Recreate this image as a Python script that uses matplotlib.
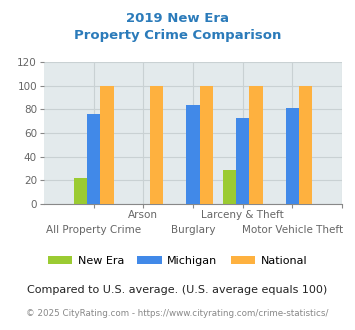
import numpy as np
import matplotlib
matplotlib.use('Agg')
import matplotlib.pyplot as plt

# data
categories = ["All Property Crime", "Arson", "Burglary", "Larceny & Theft", "Motor Vehicle Theft"]
new_era = [22, 0, 0, 29, 0]
michigan = [76, 0, 84, 73, 81]
national = [100, 100, 100, 100, 100]
series = [("New Era", new_era, "#9bcb32"),
          ("Michigan", michigan, "#4189e8"),
          ("National", national, "#feb13f")]

fig = plt.figure(figsize=(3.55, 3.30), dpi=100)
ax = fig.add_axes([44 / 355, 1 - 204 / 330, 298 / 355, 142 / 330])
ax.set_facecolor("#e3eaec")

x = np.arange(len(categories))
w = 0.27
for i, (name, vals, col) in enumerate(series):
    ax.bar(x + (i - 1) * w, vals, width=w, color=col, label=name, zorder=3)

ax.set_xlim(-1, len(categories))
ax.set_ylim(0, 120)
ax.set_yticks(range(0, 121, 20))
ax.set_xticks(list(x) + [len(categories)])
ax.set_xticklabels([])
ax.grid(True, color="#c9d1d3", linewidth=0.8, zorder=0)
for s in ["top", "right"]:
    ax.spines[s].set_visible(False)
ax.spines["left"].set_visible(False)
ax.spines["bottom"].set_color("#888888")
ax.tick_params(axis="y", length=3, colors="#888888", labelcolor="#666666", labelsize=7.5, pad=2)
ax.tick_params(axis="x", length=3, colors="#888888")

# alternating category labels
for i, c in enumerate(categories):
    yoff = -8 if i % 2 == 1 else -19
    ax.annotate(c, (i, 0), xytext=(0, yoff), textcoords="offset points",
                ha="center", va="center", fontsize=7.5, color="#666666",
                annotation_clip=False)

fig.text(0.5, 1 - 19 / 330, "2019 New Era", ha="center", va="center",
         fontsize=9.5, fontweight="bold", color="#2b7bba")
fig.text(0.5, 1 - 35 / 330, "Property Crime Comparison", ha="center", va="center",
         fontsize=9.5, fontweight="bold", color="#2b7bba")

handles, labels = ax.get_legend_handles_labels()
fig.legend(handles, labels, loc="center", bbox_to_anchor=(0.5, 1 - 261 / 330),
           ncol=3, frameon=False, fontsize=8, handlelength=2.2, handleheight=0.8,
           columnspacing=1.2, handletextpad=0.5)

fig.text(0.5, 1 - 290 / 330, "Compared to U.S. average. (U.S. average equals 100)",
         ha="center", va="center", fontsize=8, color="#222222")
fig.text(0.5, 1 - 313 / 330, "\u00a9 2025 CityRating.com - https://www.cityrating.com/crime-statistics/",
         ha="center", va="center", fontsize=6.3, color="#888888")

plt.savefig("out.png", dpi=100)
plt.close('all')
